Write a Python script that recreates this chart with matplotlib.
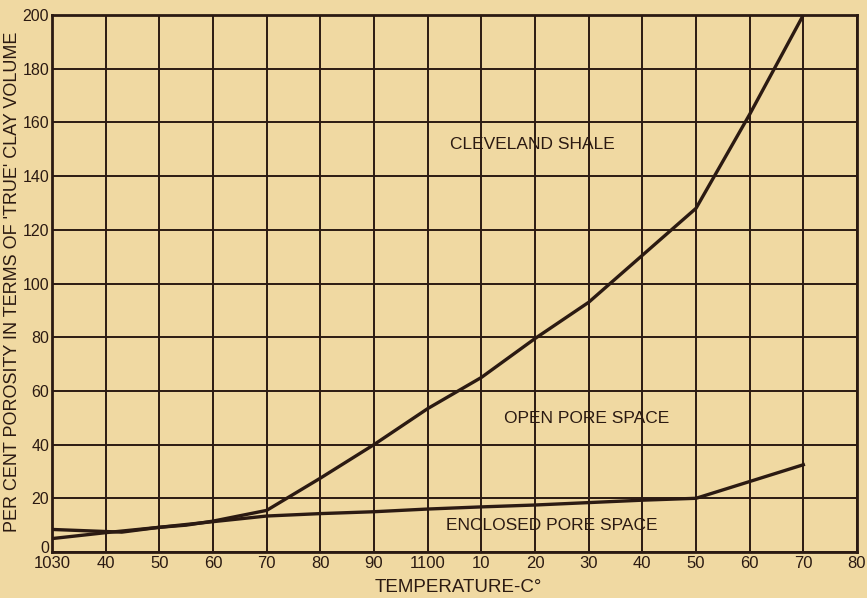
import matplotlib
matplotlib.use("Agg")
import matplotlib.pyplot as plt
import matplotlib.transforms as mtransforms

# Data
temps_total = [1030, 1040, 1050, 1055, 1060, 1070, 1080, 1090, 1100, 1110, 1120, 1130, 1140, 1150, 1160, 1170]
total_porosity = [5.0, 7.2, 9.2, 10.0, 11.5, 15.5, 27.5, 40.0, 53.4, 65.0, 79.5, 93.0, 110.5, 128.0, 163.0, 200.0]

temps_enclosed = [1030, 1043, 1050, 1060, 1070, 1080, 1090, 1100, 1110, 1120, 1130, 1140, 1150, 1170]
enclosed_porosity = [8.4, 7.4, 9.2, 11.3, 13.4, 14.3, 15.0, 16.0, 16.8, 17.5, 18.4, 19.3, 20.0, 32.5]

x_ticks = [1030, 1040, 1050, 1060, 1070, 1080, 1090, 1100, 1110, 1120, 1130, 1140, 1150, 1160, 1170, 1180]
x_tick_labels = ["1030", "40", "50", "60", "70", "80", "90", "1100", "10", "20", "30", "40", "50", "60", "70", "80"]
y_ticks = [0, 20, 40, 60, 80, 100, 120, 140, 160, 180, 200]
y_tick_labels = ["0", "20", "40", "60", "80", "100", "120", "140", "160", "180", "200"]

annotations = [
    ("CLEVELAND SHALE", 1119.6, 151.7),
    ("OPEN PORE SPACE", 1129.7, 49.8),
    ("ENCLOSED PORE SPACE", 1123.2, 9.9),
]

bg = "#f0d9a2"
ink = "#2b1a12"
plt.rcParams['font.family'] = ['Liberation Sans', 'DejaVu Sans']

fig = plt.figure(figsize=(8.67, 5.98), dpi=100, facecolor=bg)
ax = fig.add_axes([52/867, 46/598, 805/867, 537/598])
ax.set_facecolor(bg)

ax.set_xlim(1030, 1180)
ax.set_ylim(0, 200)
ax.set_xticks(x_ticks)
ax.set_xticklabels(x_tick_labels)
ax.set_yticks(y_ticks)
ax.set_yticklabels(y_tick_labels)
ax.tick_params(length=0, labelsize=12, colors=ink)
ax.tick_params(axis='x', pad=3)
ax.tick_params(axis='y', pad=2, labelsize=11.5)

# raise the "0" label slightly, as in the reference
zero_lbl = ax.get_yticklabels()[0]
zero_lbl.set_transform(zero_lbl.get_transform() +
                       mtransforms.ScaledTranslation(0, 5/100, fig.dpi_scale_trans))

ax.grid(True, color=ink, linewidth=1.4)
ax.set_axisbelow(True)
for s in ax.spines.values():
    s.set_color(ink)
    s.set_linewidth(2)

ax.plot(temps_total, total_porosity, color=ink, linewidth=2.4, solid_joinstyle='round')
ax.plot(temps_enclosed, enclosed_porosity, color=ink, linewidth=2.4, solid_joinstyle='round')

for txt, x, y in annotations:
    ax.text(x, y, txt, ha='center', va='center', fontsize=12.5, color=ink)

ax.set_xlabel("TEMPERATURE-C°", fontsize=13.5, color=ink)
ax.xaxis.set_label_coords((458-52)/805, (552-579)/537)
ax.set_ylabel("PER CENT POROSITY IN TERMS OF 'TRUE' CLAY VOLUME", fontsize=13, color=ink)
ax.yaxis.set_label_coords((21-52)/805, (552-282)/537)

fig.savefig("out.png", dpi=100, facecolor=bg)
